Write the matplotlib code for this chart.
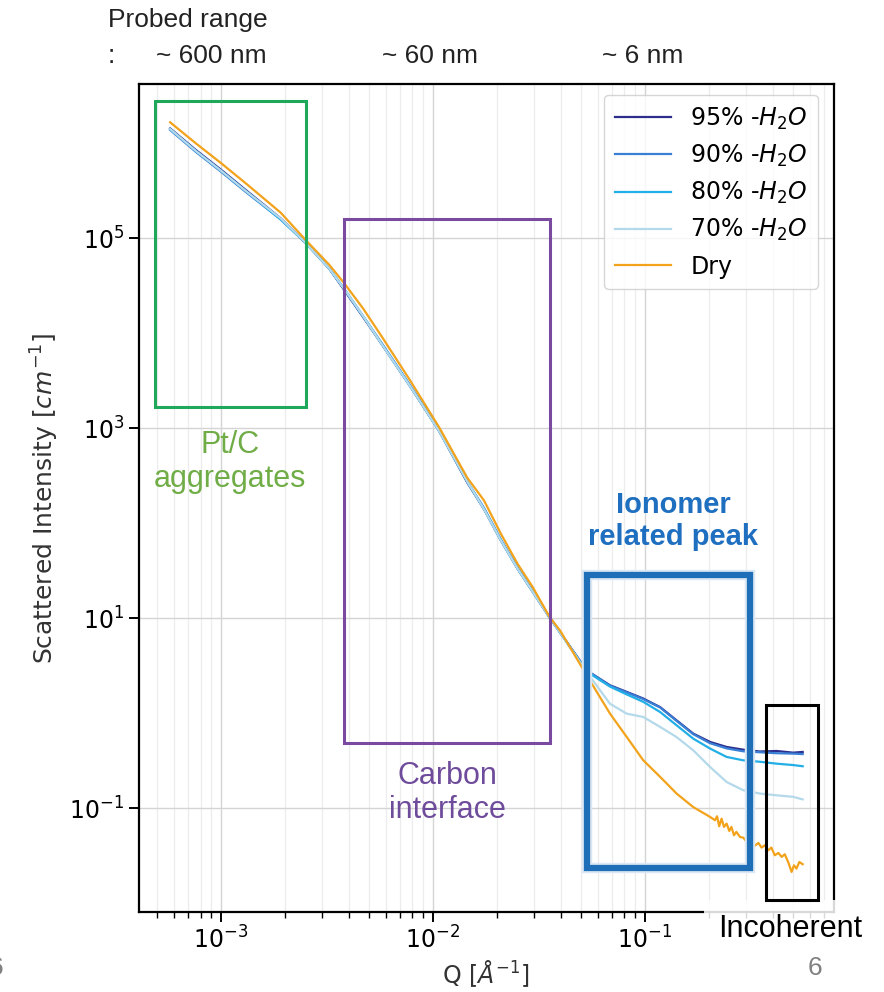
import matplotlib
matplotlib.use("Agg")
import matplotlib.pyplot as plt
from matplotlib.patches import Rectangle
import matplotlib.patheffects as pe
from matplotlib.ticker import NullLocator, NullFormatter

# scattering vector Q [1/A], shared by the humidified samples
q = [5.75e-4, 7.59e-4, 1.00e-3, 1.32e-3, 1.91e-3, 2.51e-3, 3.24e-3, 3.80e-3,
     4.68e-3, 5.75e-3, 7.76e-3, 1.07e-2, 1.45e-2, 1.74e-2, 2.09e-2, 2.51e-2,
     2.95e-2, 3.55e-2, 3.98e-2, 5.31e-2, 6.84e-2, 8.20e-2, 9.82e-2, 0.118,
     0.141, 0.169, 0.203, 0.243, 0.291, 0.348, 0.418, 0.501, 0.555]

# scattered intensity [1/cm]
i_95 = [1.43e6, 8.51e5, 5.25e5, 3.16e5, 1.62e5, 8.91e4, 4.79e4, 2.88e4,
        1.48e4, 7.59e3, 2.82e3, 9.33e2, 2.69e2, 1.41e2, 66.1, 33.1,
        19.1, 10.2, 7.08, 2.82, 1.97, 1.68, 1.43, 1.16,
        0.843, 0.611, 0.499, 0.442, 0.414, 0.396, 0.401, 0.385, 0.392]
i_90 = [1.38e6, 8.13e5, 5.01e5, 3.02e5, 1.58e5, 8.91e4, 4.79e4, 2.95e4,
        1.51e4, 7.76e3, 2.88e3, 9.55e2, 2.75e2, 1.45e2, 67.6, 33.9,
        19.5, 10.2, 7.08, 2.82, 1.95, 1.66, 1.41, 1.15,
        0.832, 0.603, 0.484, 0.427, 0.398, 0.389, 0.380, 0.376, 0.372]
i_80 = [1.41e6, 8.32e5, 5.13e5, 3.09e5, 1.58e5, 8.91e4, 4.79e4, 2.95e4,
        1.51e4, 7.59e3, 2.82e3, 9.33e2, 2.75e2, 1.41e2, 66.1, 33.1,
        19.1, 10.2, 7.08, 2.75, 1.91, 1.58, 1.32, 1.03,
        0.748, 0.541, 0.425, 0.347, 0.320, 0.309, 0.295, 0.285, 0.277]
i_70 = [1.41e6, 8.32e5, 5.13e5, 3.09e5, 1.62e5, 8.91e4, 4.79e4, 2.95e4,
        1.51e4, 7.59e3, 2.82e3, 9.33e2, 2.75e2, 1.41e2, 66.1, 33.1,
        19.1, 10.2, 7.08, 2.72, 1.26, 0.991, 0.914, 0.718,
        0.562, 0.408, 0.272, 0.189, 0.155, 0.143, 0.137, 0.132, 0.124]

# dry sample, sampled more finely in the noisy tail
q_dry = [5.75e-4, 7.59e-4, 1.00e-3, 1.32e-3, 1.91e-3, 2.51e-3, 3.24e-3, 3.80e-3,
         4.68e-3, 5.75e-3, 7.76e-3, 1.07e-2, 1.45e-2, 1.74e-2, 2.09e-2, 2.51e-2,
         2.95e-2, 3.55e-2, 3.98e-2, 5.31e-2, 6.84e-2, 8.20e-2, 9.82e-2, 0.118,
         0.141, 0.169, 0.203, 0.214, 0.219, 0.224, 0.230, 0.236, 0.243, 0.250,
         0.256, 0.263, 0.270, 0.281, 0.291, 0.302, 0.315, 0.327, 0.343, 0.355,
         0.368, 0.382, 0.395, 0.410, 0.426, 0.442, 0.457, 0.474, 0.492, 0.505,
         0.519, 0.535, 0.555]
i_dry = [1.66e6, 1.00e6, 6.17e5, 3.72e5, 1.86e5, 9.55e4, 5.25e4, 3.39e4,
         1.82e4, 9.12e3, 3.24e3, 1.02e3, 3.02e2, 1.74e2, 77.6, 37.2,
         21.4, 10.3, 7.41, 2.51, 0.993, 0.564, 0.320, 0.214,
         0.143, 0.103, 0.0811, 0.0748, 0.0824, 0.0647, 0.0778, 0.0637, 0.0690, 0.0577,
         0.0637, 0.0520, 0.0564, 0.0499, 0.0491, 0.0443, 0.0460, 0.0398, 0.0432, 0.0386,
         0.0408, 0.0361, 0.0386, 0.0320, 0.0339, 0.0308, 0.0328, 0.0272, 0.0214, 0.0251,
         0.0232, 0.0272, 0.0258]

labels = ["95% -$H_2O$", "90% -$H_2O$", "80% -$H_2O$", "70% -$H_2O$", "Dry"]
colors = ["#2b2e8c", "#3a7fd6", "#22aee6", "#b3d9ea", "#f2a31b"]

y_ticks = [1e-1, 1e1, 1e3, 1e5]

W, H = 884, 992
fig = plt.figure(figsize=(W / 100, H / 100), dpi=100)
ax = fig.add_axes([139 / W, 1 - 912 / H, (834 - 139) / W, (912 - 84) / H])

curves = [(q, i_95), (q, i_90), (q, i_80), (q, i_70), (q_dry, i_dry)]
for (x, y), lab, c in zip(curves, labels, colors):
    ax.plot(x, y, color=c, lw=1.6, label=lab)

ax.set_xscale("log")
ax.set_yscale("log")
ax.set_xlim(4.1e-4, 0.78)
ax.set_ylim(8.1e-3, 4.2e6)

ax.set_yticks(y_ticks)
ax.yaxis.set_minor_locator(NullLocator())
ax.yaxis.set_minor_formatter(NullFormatter())
ax.xaxis.set_minor_formatter(NullFormatter())

ax.grid(which="major", color="#d4d4d4", lw=1.0)
ax.grid(which="minor", axis="x", color="#ececec", lw=0.9)
ax.set_axisbelow(True)

for s in ax.spines.values():
    s.set_linewidth(1.6)
ax.tick_params(which="major", labelsize=17, length=7, width=1.4)
ax.tick_params(which="minor", length=4, width=1.0)

ax.set_xlabel(r"Q [$\AA^{-1}$]", fontsize=17, color="#333333", labelpad=3)
ax.set_ylabel(r"Scattered Intensity [$cm^{-1}$]", fontsize=18, color="#333333", labelpad=6)

leg = ax.legend(loc="upper right", fontsize=17, frameon=True, borderpad=0.45,
                handlelength=2.4, labelspacing=0.47, borderaxespad=0,
                bbox_to_anchor=(0.977, 0.987))
leg.get_frame().set_edgecolor("#cccccc")

# region boxes, in figure pixels measured from the top-left corner
def box(x0, y0, x1, y1, color, lw, glow=False):
    r = Rectangle((x0 / W, 1 - y1 / H), (x1 - x0) / W, (y1 - y0) / H,
                  transform=fig.transFigure, fill=False, edgecolor=color, lw=lw, zorder=5)
    if glow:
        r.set_path_effects([pe.Stroke(linewidth=lw + 3, foreground="#dbe7f3"), pe.Normal()])
    fig.add_artist(r)

box(155, 101, 306, 407, "#1fa85a", 2.2)
box(344, 219, 550, 743, "#7a4aa0", 2.2)
box(587, 575, 750, 868, "#1f6fb8", 4.5, glow=True)
box(766, 705, 818, 900, "black", 2.2)

sans = ["Liberation Sans", "DejaVu Sans"]
fig.text(230 / W, 1 - 462 / H, "Pt/C\naggregates", ha="center", va="center",
         fontsize=22, color="#70ad47", family=sans, linespacing=1.15)
fig.text(447 / W, 1 - 793 / H, "Carbon\ninterface", ha="center", va="center",
         fontsize=22, color="#6f4c9b", family=sans, linespacing=1.15)
fig.text(673 / W, 1 - 521 / H, "Ionomer\nrelated peak", ha="center", va="center",
         fontsize=21, color="#1f6fc0", family=sans, weight="bold", linespacing=1.15)
fig.text(790 / W, 1 - 929 / H, "Incoherent", ha="center", va="center",
         fontsize=22, color="black", family=sans,
         bbox=dict(boxstyle="square,pad=0.45", facecolor="white", edgecolor="none", alpha=0.85))

# probed length scales above the plot
fig.text(108 / W, 1 - 20 / H, "Probed range", ha="left", va="center",
         fontsize=19, color="#222222", family=sans)
fig.text(108 / W, 1 - 56 / H, ":", ha="left", va="center",
         fontsize=19, color="#222222", family=sans)
for xp, t in [(211, "~ 600 nm"), (430, "~ 60 nm"), (643, "~ 6 nm")]:
    fig.text(xp / W, 1 - 56 / H, t, ha="center", va="center",
             fontsize=19, color="#222222", family=sans)

# slide page numbers
fig.text(815 / W, 1 - 968 / H, "6", ha="center", va="center", fontsize=19, color="#808080", family=sans)
fig.text(-4 / W, 1 - 968 / H, "6", ha="center", va="center", fontsize=19, color="#808080", family=sans)

fig.savefig("out.png", dpi=100, facecolor="white")
